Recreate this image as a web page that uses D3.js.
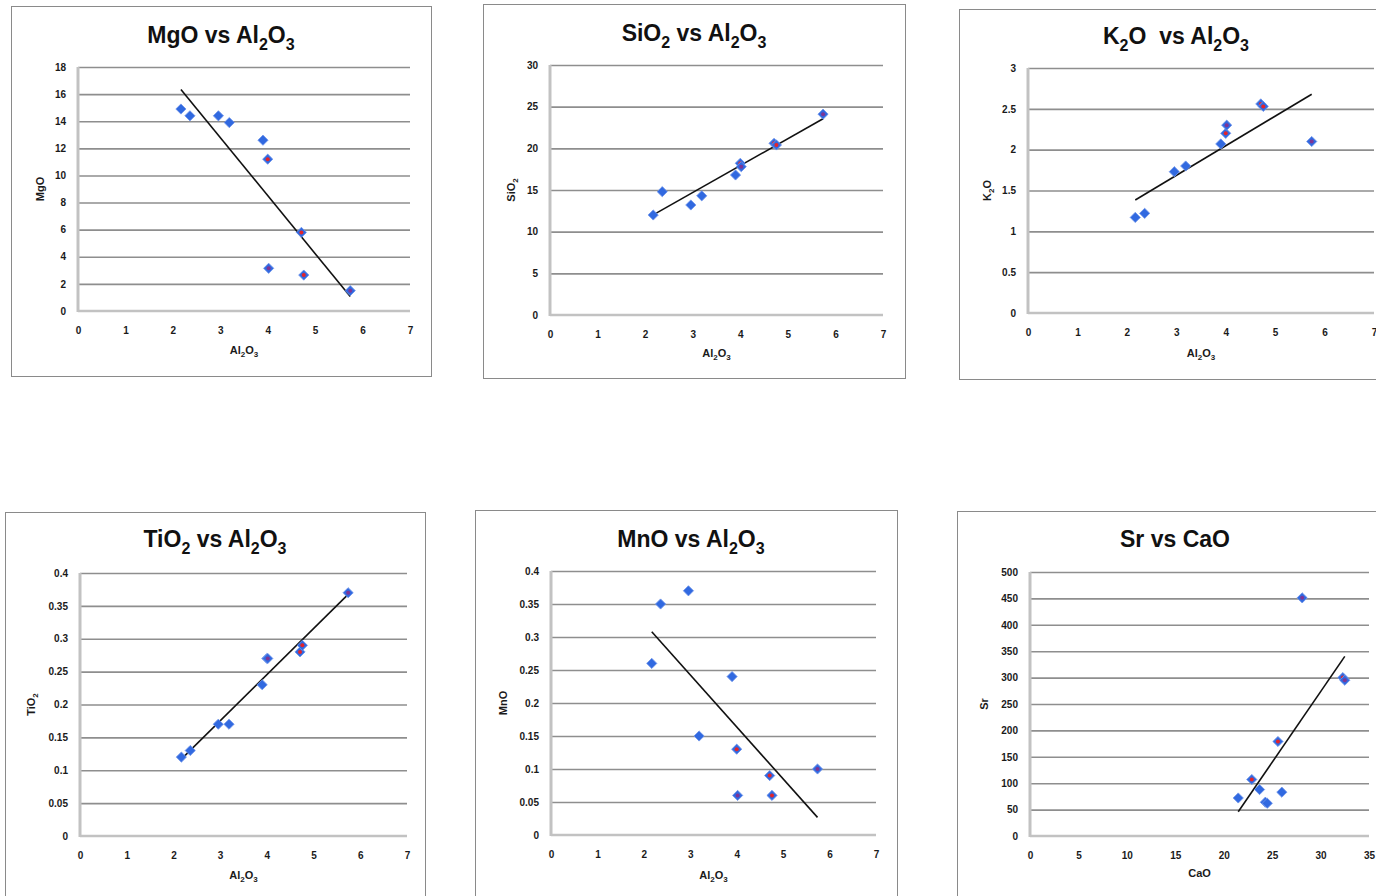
<!DOCTYPE html>
<html>
<head>
<meta charset="utf-8">
<script src="https://cdn.jsdelivr.net/npm/d3@7"></script>
<style>
    body { margin: 0; background: #fff; }
    svg { display: block; font-family: "Liberation Sans", Arial, sans-serif; }
    .tick text { font-weight: bold; font-size: 10px; fill: #1a1a1a; }
</style>
</head>
<body>
<div id="chart-area"></div>
<script>
// samples (same order in all Al2O3 panels)
const al2o3 = [2.17, 2.36, 2.96, 3.19, 3.9, 4.0, 4.02, 4.71, 4.76, 5.74];
const mgo   = [14.9, 14.4, 14.4, 13.9, 12.6, 11.2, 3.15, 5.8, 2.65, 1.5];
const sio2  = [12.0, 14.8, 13.2, 14.3, 16.8, 18.2, 17.8, 20.6, 20.4, 24.1];
const k2o   = [1.17, 1.22, 1.73, 1.8, 2.07, 2.2, 2.3, 2.56, 2.53, 2.1];
const tio2  = [0.12, 0.13, 0.17, 0.17, 0.23, 0.27, 0.27, 0.28, 0.29, 0.37];
const mno   = [0.26, 0.35, 0.37, 0.15, 0.24, 0.13, 0.06, 0.09, 0.06, 0.10];
// 0 = plain, 1 = red centre, 2 = purple centre
const sampleMark = [0, 0, 0, 0, 0, 1, 2, 1, 1, 2];

const cao    = [21.5, 22.9, 23.7, 24.3, 24.5, 25.6, 26.0, 28.1, 32.3, 32.5];
const sr     = [72, 107, 88, 64, 62, 179, 83, 451, 300, 295];
const srMark = [0, 1, 0, 0, 0, 1, 0, 2, 1, 2];

// tick values
const alTicks   = [0, 1, 2, 3, 4, 5, 6, 7];
const caoTicks  = [0, 5, 10, 15, 20, 25, 30, 35];
const mgoTicks  = [0, 2, 4, 6, 8, 10, 12, 14, 16, 18];
const sio2Ticks = [0, 5, 10, 15, 20, 25, 30];
const k2oTicks  = [0, 0.5, 1, 1.5, 2, 2.5, 3];
const tio2Ticks = [0, 0.05, 0.1, 0.15, 0.2, 0.25, 0.3, 0.35, 0.4];
const mnoTicks  = [0, 0.05, 0.1, 0.15, 0.2, 0.25, 0.3, 0.35, 0.4];
const srTicks   = [0, 50, 100, 150, 200, 250, 300, 350, 400, 450, 500];

const panels = [
    {title: "MgO vs Al_2O_3",   xLabel: "Al_2O_3", yLabel: "MgO",   xs: al2o3, ys: mgo,  mark: sampleMark, xTicks: alTicks,  yTicks: mgoTicks},
    {title: "SiO_2 vs Al_2O_3", xLabel: "Al_2O_3", yLabel: "SiO_2", xs: al2o3, ys: sio2, mark: sampleMark, xTicks: alTicks,  yTicks: sio2Ticks},
    {title: "K_2O  vs Al_2O_3", xLabel: "Al_2O_3", yLabel: "K_2O",  xs: al2o3, ys: k2o,  mark: sampleMark, xTicks: alTicks,  yTicks: k2oTicks},
    {title: "TiO_2 vs Al_2O_3", xLabel: "Al_2O_3", yLabel: "TiO_2", xs: al2o3, ys: tio2, mark: sampleMark, xTicks: alTicks,  yTicks: tio2Ticks},
    {title: "MnO vs Al_2O_3",   xLabel: "Al_2O_3", yLabel: "MnO",   xs: al2o3, ys: mno,  mark: sampleMark, xTicks: alTicks,  yTicks: mnoTicks},
    {title: "Sr vs CaO",        xLabel: "CaO",     yLabel: "Sr",    xs: cao,   ys: sr,   mark: srMark,     xTicks: caoTicks, yTicks: srTicks}
];

// page layout of each chart object
const LAYOUT = [
    {box: [11, 6, 420, 370],  L: 78,   R: 410,  T: 67,  B: 311, tx: 221,  ty: 43,  xt: 354, yt: 44},
    {box: [483, 4, 422, 374], L: 550,  R: 883,  T: 65,  B: 315, tx: 694,  ty: 41,  xt: 357, yt: 515},
    {box: [959, 9, 434, 370], L: 1028, R: 1374, T: 68,  B: 313, tx: 1176, ty: 44,  xt: 357, yt: 991},
    {box: [5, 512, 420, 400], L: 80,   R: 407,  T: 573, B: 836, tx: 215,  ty: 547, xt: 879, yt: 35},
    {box: [475, 510, 422, 400], L: 551, R: 876, T: 571, B: 835, tx: 691,  ty: 547, xt: 879, yt: 507},
    {box: [957, 511, 436, 400], L: 1030, R: 1369, T: 572, B: 836, tx: 1175, ty: 547, xt: 877, yt: 988}
];

const COLORS = {blue: "#3169e0", red: "#e3242b", purple: "#7d3596", grid: "#8e8e8e", axis: "#c2c2c2"};

const svg = d3.select("#chart-area").append("svg")
    .attr("width", 1376)
    .attr("height", 896);

// writes "Al_2O_3" style strings with subscripts
function richText(sel, str, size, subSize) {
    const shift = Math.round(size * 0.3);
    let down = false;
    str.split(/(_\d)/).filter(s => s.length).forEach(part => {
        const t = sel.append("tspan");
        if (part[0] === "_") {
            t.attr("font-size", subSize).attr("dy", down ? 0 : shift).text(part.slice(1));
            down = true;
        } else {
            t.attr("dy", down ? -shift : 0).text(part);
            down = false;
        }
    });
}

function fit(xs, ys) {
    const mx = d3.mean(xs), my = d3.mean(ys);
    const sxy = d3.sum(xs, (x, i) => (x - mx) * (ys[i] - my));
    const sxx = d3.sum(xs, x => (x - mx) * (x - mx));
    const slope = sxy / sxx;
    return x => my + slope * (x - mx);
}

const fmt = d => String(+d.toFixed(2));

panels.forEach((p, k) => {
    const lay = LAYOUT[k];
    const g = svg.append("g");

    g.append("rect")
        .attr("x", lay.box[0] + 0.5).attr("y", lay.box[1] + 0.5)
        .attr("width", lay.box[2]).attr("height", lay.box[3])
        .attr("fill", "#fff").attr("stroke", "#8a8a8a").attr("stroke-width", 1);

    const xScale = d3.scaleLinear().domain(d3.extent(p.xTicks)).range([lay.L, lay.R]);
    const yScale = d3.scaleLinear().domain(d3.extent(p.yTicks)).range([lay.B, lay.T]);
    const W = lay.R - lay.L;

    // horizontal gridlines
    g.append("g")
        .attr("transform", `translate(${lay.L},0)`)
        .call(d3.axisLeft(yScale).tickValues(p.yTicks.slice(1)).tickSize(-W).tickFormat(""))
        .call(a => a.select(".domain").remove())
        .call(a => a.selectAll("line").attr("stroke", COLORS.grid).attr("stroke-width", 1.6));

    // axis lines
    g.append("line")
        .attr("x1", lay.L).attr("x2", lay.L).attr("y1", lay.T).attr("y2", lay.B + 1)
        .attr("stroke", COLORS.axis).attr("stroke-width", 3);
    g.append("line")
        .attr("x1", lay.L).attr("x2", lay.R).attr("y1", lay.B).attr("y2", lay.B)
        .attr("stroke", COLORS.axis).attr("stroke-width", 2.5);

    // tick labels
    g.append("g")
        .attr("transform", `translate(${lay.L},0)`)
        .call(d3.axisLeft(yScale).tickValues(p.yTicks).tickSize(0).tickPadding(12).tickFormat(fmt))
        .call(a => a.select(".domain").remove());
    g.append("g")
        .attr("transform", `translate(0,${lay.B})`)
        .call(d3.axisBottom(xScale).tickValues(p.xTicks).tickSize(0).tickPadding(16).tickFormat(fmt))
        .call(a => a.select(".domain").remove());

    // titles
    const title = g.append("text")
        .attr("x", lay.tx).attr("y", lay.ty)
        .attr("text-anchor", "middle")
        .attr("font-size", 23).attr("font-weight", "bold")
        .style("white-space", "pre")
        .attr("fill", "#111");
    richText(title, p.title, 23, 16);

    const xt = g.append("text")
        .attr("x", (lay.L + lay.R) / 2).attr("y", lay.xt)
        .attr("text-anchor", "middle")
        .attr("font-size", 11).attr("font-weight", "bold")
        .attr("fill", "#1a1a1a");
    richText(xt, p.xLabel, 11, 8);

    const yt = g.append("text")
        .attr("transform", `translate(${lay.yt},${(lay.T + lay.B) / 2}) rotate(-90)`)
        .attr("text-anchor", "middle")
        .attr("font-size", 11).attr("font-weight", "bold")
        .attr("fill", "#1a1a1a");
    richText(yt, p.yLabel, 11, 8);

    // trendline
    const trend = fit(p.xs, p.ys);
    const [x0, x1] = d3.extent(p.xs);
    g.append("line")
        .attr("x1", xScale(x0)).attr("y1", yScale(trend(x0)))
        .attr("x2", xScale(x1)).attr("y2", yScale(trend(x1)))
        .attr("stroke", "#111").attr("stroke-width", 1.6);

    // points
    const pts = g.append("g").selectAll("g")
        .data(p.xs.map((x, i) => ({x, y: p.ys[i], m: p.mark[i]})))
        .join("g")
        .attr("transform", d => `translate(${xScale(d.x)},${yScale(d.y)})`);

    pts.append("path")
        .attr("d", d3.symbol(d3.symbolSquare, 52))
        .attr("transform", "rotate(45)")
        .attr("fill", COLORS.blue)
        .attr("stroke", "#6f95ea").attr("stroke-width", 0.8);

    pts.filter(d => d.m > 0).append("circle")
        .attr("r", 2)
        .attr("fill", d => d.m === 1 ? COLORS.red : COLORS.purple);
});
</script>
</body>
</html>
